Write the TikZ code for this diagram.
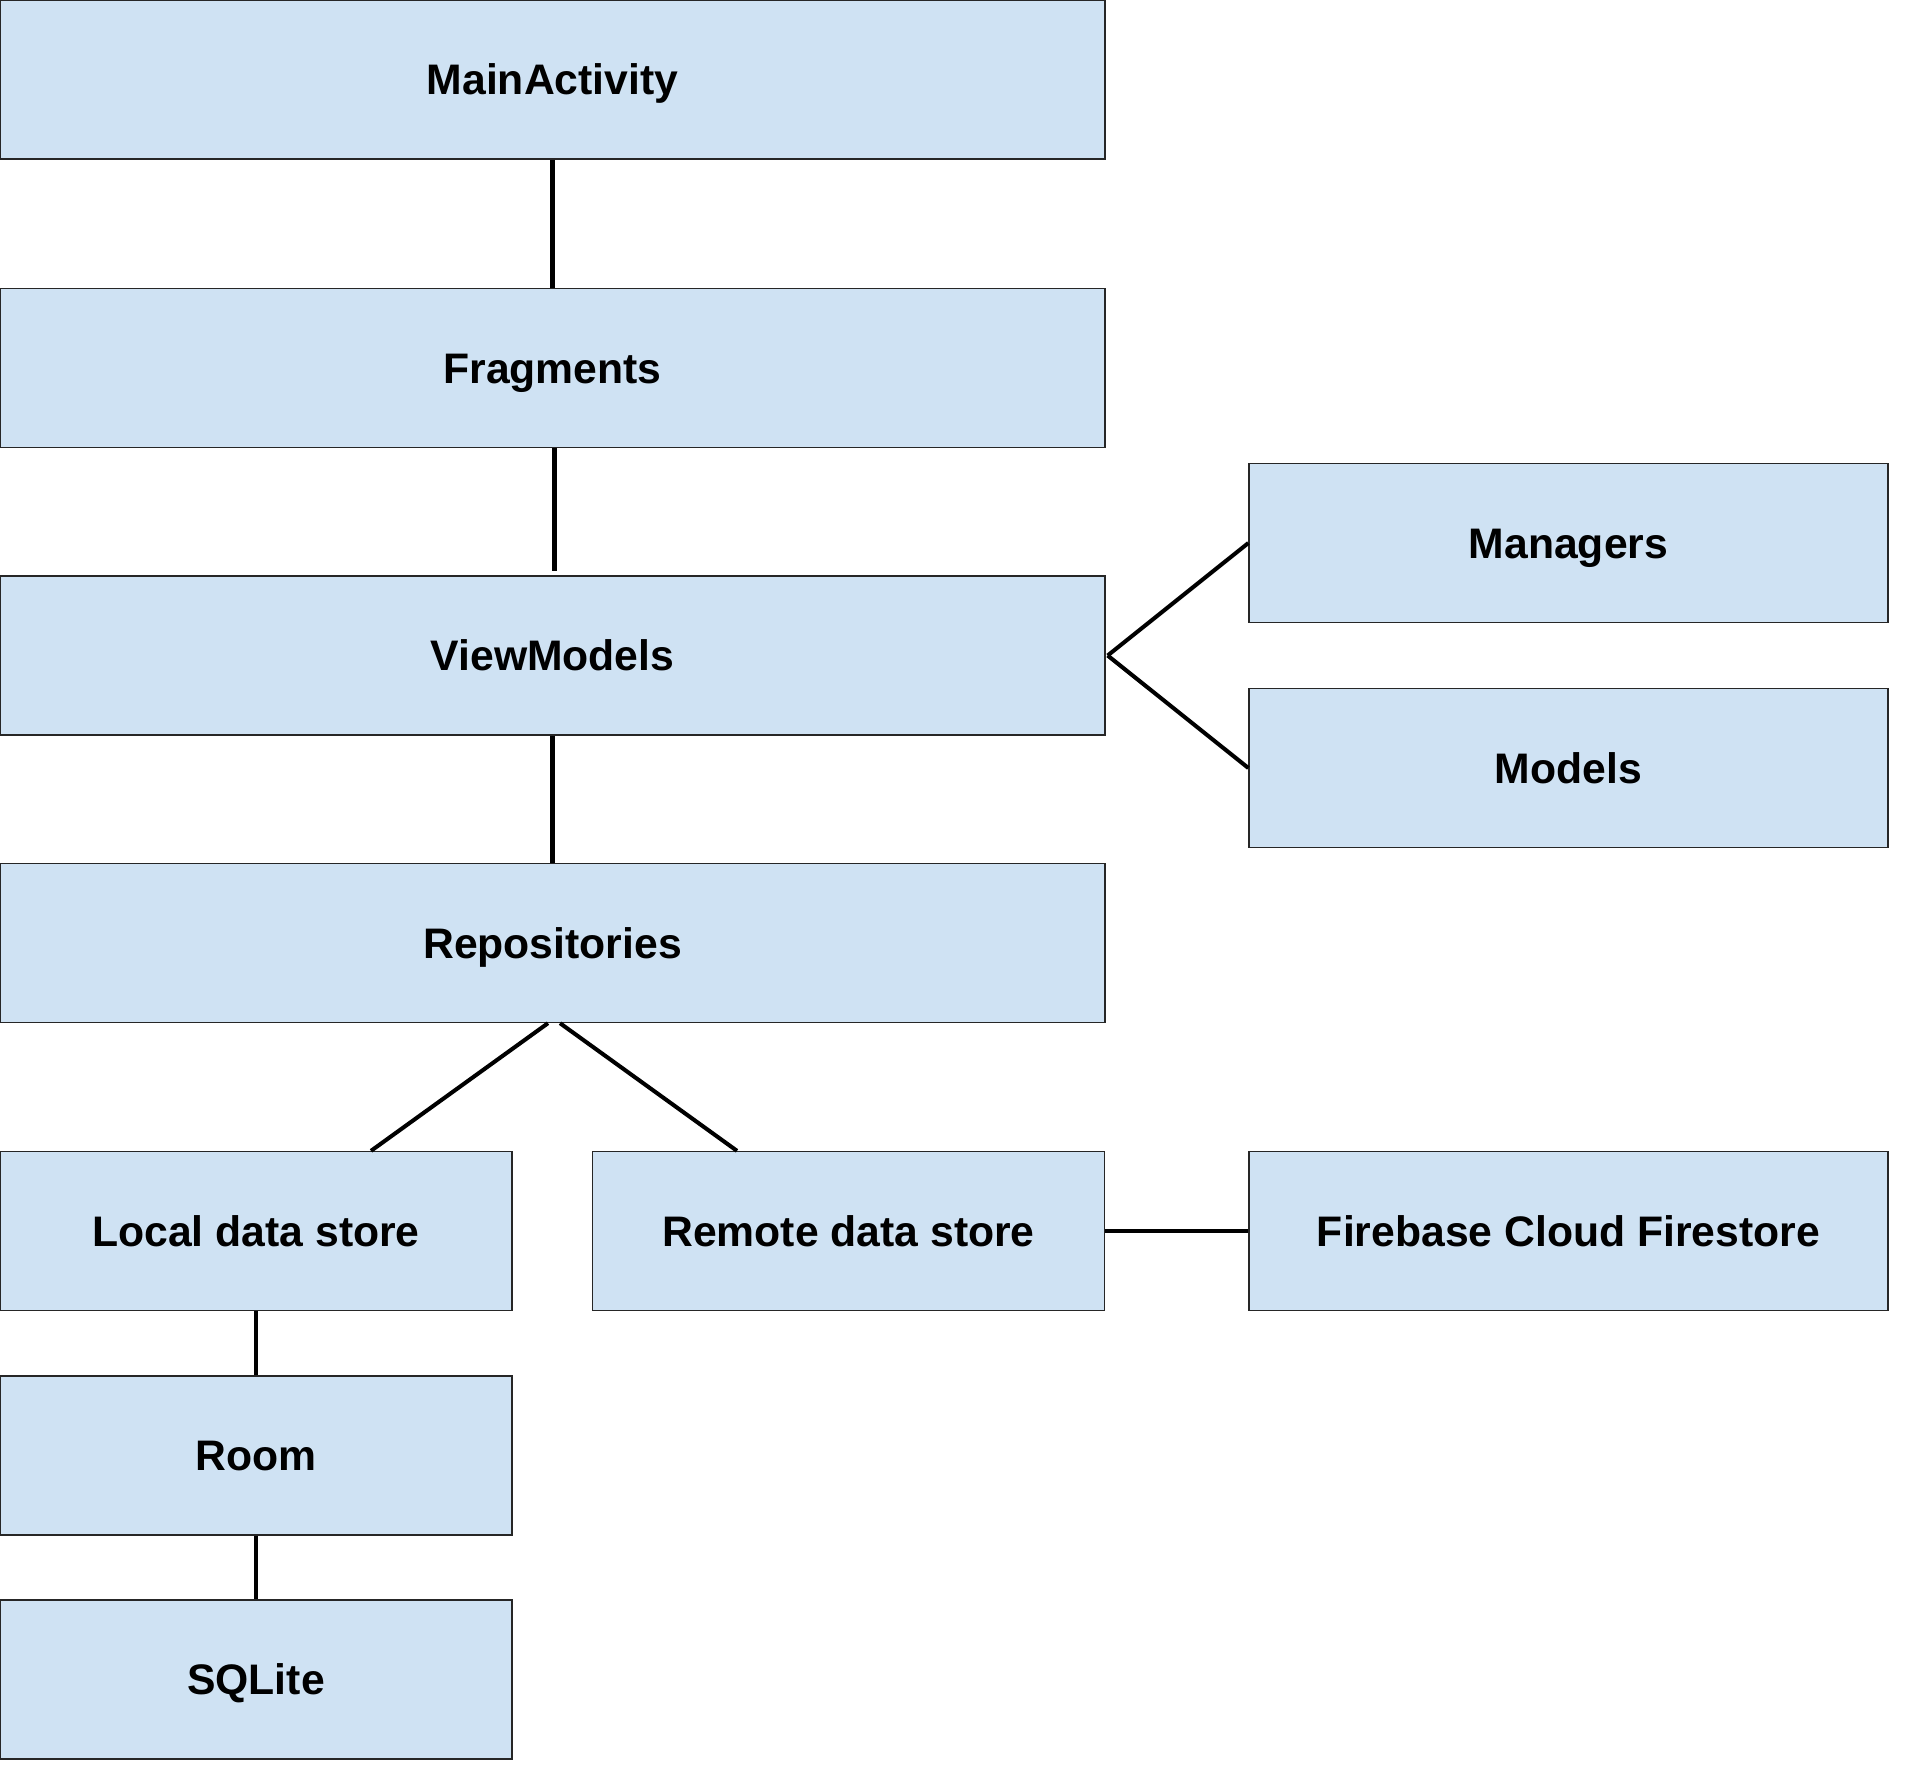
\documentclass[tikz,border=0pt]{standalone}
\usepackage{fontspec}
\setmainfont{Liberation Sans}
\usepackage{tikz}
\usetikzlibrary{calc, shapes, arrows}
\usetikzlibrary{positioning}
\definecolor{boxblue}{HTML}{CFE2F3}
\tikzstyle{layer} = [rectangle, draw=black!85, line width=0.75pt, fill=boxblue, inner sep=0pt, minimum height=3.18cm, text height=0.6cm, text depth=0cm, font=\fontsize{24.3}{28}\selectfont\bfseries]
\tikzstyle{wide} = [layer, minimum width=22.1cm]
\tikzstyle{narrow} = [layer, minimum width=10.24cm]
\tikzstyle{side} = [layer, minimum width=12.78cm]
\tikzstyle{link} = [line width=2.3pt]

\begin{document}
\begin{tikzpicture}
        \useasboundingbox (0, 0) rectangle (38.24, -35.58);
        \node[wide] at (11.05, -1.59) (MainActivity) {MainActivity};
        \node[wide] at (11.05, -7.36) (Fragments) {Fragments};
        \node[wide] at (11.05, -13.11) (ViewModels) {ViewModels};
        \node[wide] at (11.05, -18.86) (Repositories) {Repositories};
        \node[side] at (31.37, -10.86) (Managers) {Managers};
        \node[side] at (31.37, -15.36) (Models) {Models};
        \node[narrow] at (5.12, -24.62) (LocalDataStore) {Local data store};
        \node[narrow] at (16.97, -24.62) (RemoteDataStore) {Remote data store};
        \node[side] at (31.37, -24.62) (Firebase) {Firebase Cloud Firestore};
        \node[narrow] at (5.12, -29.11) (Room) {Room};
        \node[narrow] at (5.12, -33.59) (SQLite) {SQLite};

        \draw[link] (MainActivity) -- (Fragments);
        \draw[link, shorten >=0.08cm] ([xshift=0.04cm]Fragments.south) -- ([xshift=0.04cm]ViewModels.north);
        \draw[link] (ViewModels) -- (Repositories);
        \draw[link] ([xshift=0.04cm]ViewModels.east) -- (Managers.west);
        \draw[link] ([xshift=0.04cm]ViewModels.east) -- (Models.west);
        \draw[link] ([xshift=-0.09cm]Repositories.south) -- ([xshift=2.3cm]LocalDataStore.north);
        \draw[link] ([xshift=0.15cm]Repositories.south) -- ([xshift=-2.23cm]RemoteDataStore.north);
        \draw[link] (RemoteDataStore) -- (Firebase);
        \draw[link] (LocalDataStore) -- (Room);
        \draw[link] (Room) -- (SQLite);
    \end{tikzpicture}
\end{document}
